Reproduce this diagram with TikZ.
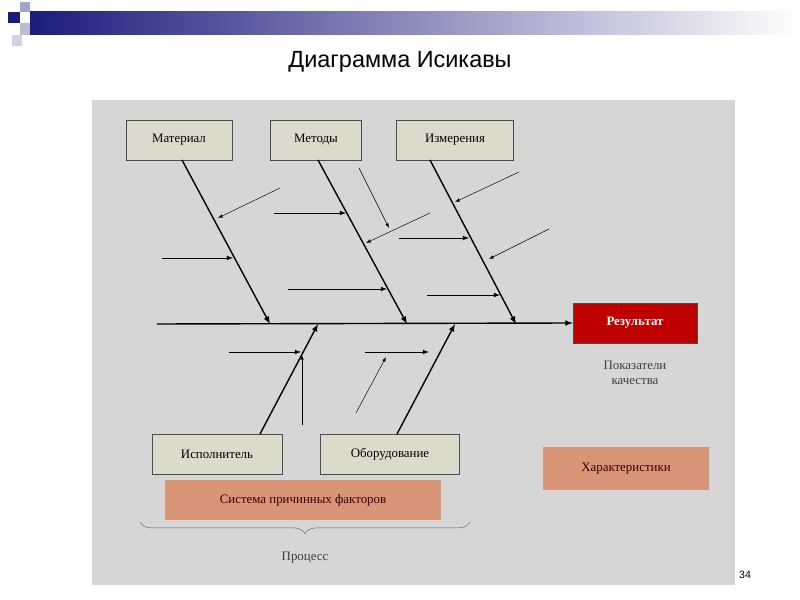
\documentclass[tikz,border=0pt]{standalone}
\usepackage{fontspec}
\setmainfont{Liberation Serif}
\newfontfamily\titlefont{Liberation Sans}
\usetikzlibrary{decorations.pathreplacing}
\definecolor{panel}{HTML}{D6D6D6}
\definecolor{causebox}{HTML}{DCDBCB}
\definecolor{salmon}{HTML}{D99578}
\definecolor{navy}{HTML}{1C1C7C}
\begin{document}
\begin{tikzpicture}[x=0.03cm,y=-0.03cm,
    cause/.style = {draw=black!70, fill=causebox, font=\fontsize{11}{13}\selectfont, minimum height=1.2cm, inner sep=0pt},
    band/.style = {fill=salmon, font=\fontsize{11}{13}\selectfont, text=black!80!red, inner sep=0pt},
    bone/.style = {very thick, -latex},
    twig/.style = {thin, -latex}]
    \useasboundingbox (0,0) rectangle (800,600);
    % header
    \shade[left color=navy, right color=white] (30,12) rectangle (800,35);
    \fill[navy] (8,12) rectangle (20,23);
    \fill[navy!40] (20,2) rectangle (30,12);
    \fill[navy!30] (20,23) rectangle (30,35);
    \fill[navy!20] (12,35) rectangle (22,46);
    \node[font=\titlefont\fontsize{20}{24}\selectfont] (title) at (400,62) {Диаграмма Исикавы};
    \fill[panel] (92,100) rectangle (735,585);
    \node[font=\titlefont\fontsize{9}{11}\selectfont] (page) at (745,575) {34};

    % causes
    \node[cause, minimum width=3.18cm] (mat) at (179,140) {Материал};
    \node[cause, minimum width=2.73cm] (met) at (316,140) {Методы};
    \node[cause, minimum width=3.51cm] (izm) at (455,140) {Измерения};
    \node[cause, minimum width=3.9cm] (isp) at (217,454) {Исполнитель};
    \node[cause, minimum width=4.17cm] (obo) at (390,454) {Оборудование};
    \node[draw=black!70, fill=red!75!black, text=white, font=\bfseries\fontsize{11}{13}\selectfont,
          minimum width=3.72cm, minimum height=1.2cm] (res) at (635,323) {Результат};
    \node[align=center, font=\fontsize{11}{13}\selectfont, text=black!75] (pok) at (635,373) {Показатели\\качества};
    \node[band, minimum width=8.28cm, minimum height=1.2cm] (sys) at (303,500) {Система причинных факторов};
    \node[band, minimum width=4.98cm, minimum height=1.29cm] (har) at (626,469) {Характеристики};

    % spine
    \coordinate (tail) at (157,324);
    \draw[bone] (tail) -- (res.west);
    \coordinate (m1) at (270,324);
    \coordinate (m2) at (407,324);
    \coordinate (m3) at (516,324);
    \coordinate (m4) at (318,324);
    \coordinate (m5) at (455,324);
    \draw[bone] (182,160) -- (m1);
    \draw[bone] (318,160) -- (m2);
    \draw[bone] (430,160) -- (m3);
    \draw[bone] (260,434) -- (m4);
    \draw[bone] (397,434) -- (m5);

    % minor causes
    \draw[twig] (280,188) -- (218,218);
    \draw[twig, thick] (162,258) -- (233,258);
    \draw[twig, thick] (274,213) -- (346,213);
    \draw[twig, thick] (288,289) -- (387,289);
    \draw[twig] (430,213) -- (366,243);
    \draw[twig] (359,168) -- (389,228);
    \draw[twig] (519,172) -- (455,202);
    \draw[twig, thick] (399,238) -- (469,238);
    \draw[twig] (549,229) -- (489,259);
    \draw[twig, thick] (427,295) -- (500,295);
    \draw[twig, thick] (229,352) -- (301,352);
    \draw[twig] (302,425) -- (302,355);
    \draw[twig, thick] (365,352) -- (429,352);
    \draw[twig] (356,413) -- (386,357);

    % process
    \draw[decorate, decoration={brace, mirror, amplitude=10pt}, black!60] (140,522) -- (470,522);
    \node[font=\fontsize{11}{13}\selectfont, text=black!75] (proc) at (305,558) {Процесс};
\end{tikzpicture}
\end{document}
